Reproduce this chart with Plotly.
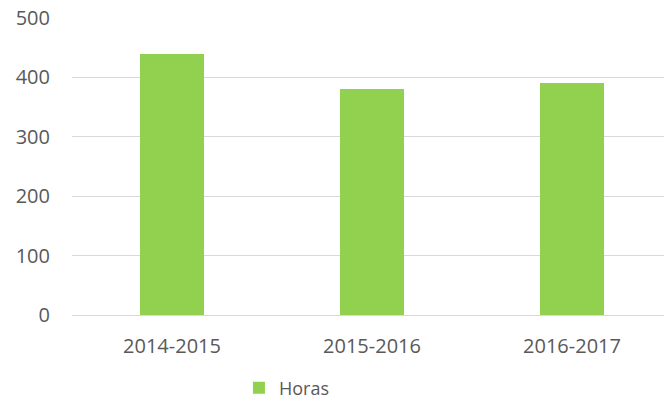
import plotly.graph_objects as go

categories = ["2014-2015", "2015-2016", "2016-2017"]
horas = [440, 380, 390]
y_ticks = [0, 100, 200, 300, 400, 500]

fig = go.Figure()
fig.add_trace(go.Bar(
    x=[0, 1, 2], y=horas, name="Horas",
    marker=dict(color="#92D050", line=dict(width=0)),
    width=0.32,
))

fig.update_layout(
    width=664, height=401,
    margin=dict(l=72, r=0, t=18, b=86),
    paper_bgcolor="white", plot_bgcolor="white",
    font=dict(family="Open Sans", size=20, color="#595959"),
    showlegend=True,
    legend=dict(orientation="h", x=0.282, xanchor="left",
                yref="container", y=0.032, yanchor="middle",
                font=dict(size=18, color="#595959")),
    xaxis=dict(range=[-0.5, 2.46], tickvals=[0, 1, 2], ticktext=categories,
               showgrid=False, zeroline=False, showline=False, ticks="",
               ticklabelstandoff=17),
    yaxis=dict(range=[0, 500], tickvals=y_ticks, showgrid=True, gridcolor="#D9D9D9",
               gridwidth=1, zeroline=True, zerolinecolor="#D9D9D9", zerolinewidth=1,
               showline=False, ticks="", ticklabelstandoff=21),
    bargap=0,
)

fig.write_html("out.html")
